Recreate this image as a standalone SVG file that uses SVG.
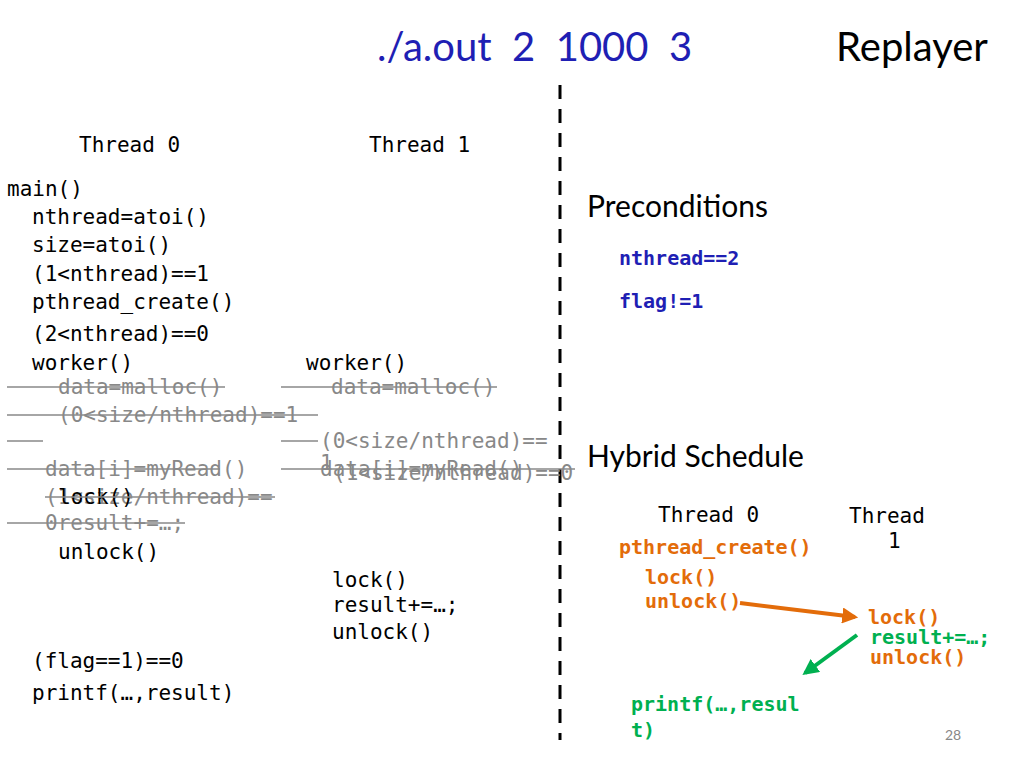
<svg xmlns="http://www.w3.org/2000/svg" width="1024" height="768" viewBox="0 0 1024 768">
<defs>
<style>
.m{font-family:"DejaVu Sans Mono",monospace;font-size:21px;fill:#000}
.g{font-family:"DejaVu Sans Mono",monospace;font-size:21px;fill:#888}
.b{font-family:"DejaVu Sans Mono",monospace;font-size:20px;font-weight:bold}
.s{font-family:Lato,"Open Sans",sans-serif}
.st{stroke:#888;stroke-width:1.5}
</style>
<marker id="ao" viewBox="0 0 10 10" refX="8" refY="5" markerWidth="4" markerHeight="4" orient="auto"><path d="M0,0L10,5L0,10z" fill="#e36c0a"/></marker>
<marker id="ag" viewBox="0 0 10 10" refX="8" refY="5" markerWidth="4" markerHeight="4" orient="auto"><path d="M0,0L10,5L0,10z" fill="#00b050"/></marker>
</defs>
<rect width="1024" height="768" fill="#fff"/>
<text x="377" y="61" class="s" font-size="40" fill="#1f1fb4" xml:space="preserve">./a.out  2  1000  3</text>
<text x="836" y="61" class="s" font-size="40" fill="#000">Replayer</text>
<line x1="560" y1="85" x2="560" y2="740" stroke="#000" stroke-width="3" stroke-dasharray="14,10"/>
<g id="left">
<text x="79" y="152" class="m">Thread 0</text>
<text x="369" y="152" class="m">Thread 1</text>
<text x="7" y="196" class="m">main()</text>
<text x="32" y="224" class="m">nthread=atoi()</text>
<text x="32" y="252" class="m">size=atoi()</text>
<text x="32" y="281" class="m">(1&lt;nthread)==1</text>
<text x="32" y="309" class="m">pthread_create()</text>
<text x="32" y="341" class="m">(2&lt;nthread)==0</text>
<text x="32" y="370" class="m">worker()</text>
<text x="306" y="370" class="m">worker()</text>
<text x="58" y="394" class="g">data=malloc()</text>
<text x="331" y="394" class="g">data=malloc()</text>
<text x="58" y="422" class="g">(0&lt;size/nthread)==1</text>
<text x="320" y="448" class="g">(0&lt;size/nthread)==</text>
<text x="320" y="470" class="g">1</text>
<text x="45" y="476" class="g">data[i]=myRead()</text>
<text x="320" y="476" class="g">data[i]=myRead()</text>
<text x="333" y="480" class="g">(1&lt;size/nthread)==0</text>
<text x="45" y="504" class="g">(1&lt;size/nthread)==</text>
<text x="45" y="530" class="g">0result+=…;</text>
<text x="58" y="504" class="m">lock()</text>
<text x="58" y="559" class="m">unlock()</text>
<text x="332" y="587" class="m">lock()</text>
<text x="332" y="612" class="m">result+=…;</text>
<text x="332" y="639" class="m">unlock()</text>
<text x="32" y="668" class="m">(flag==1)==0</text>
<text x="32" y="700" class="m">printf(…,result)</text>
<g class="st">
<line x1="7" y1="387" x2="225" y2="387"/><line x1="281" y1="387" x2="497" y2="387"/>
<line x1="7" y1="415" x2="318" y2="415"/>
<line x1="7" y1="441" x2="43" y2="441"/><line x1="281" y1="441" x2="318" y2="441"/>
<line x1="7" y1="469" x2="220" y2="469"/><line x1="281" y1="469" x2="575" y2="469"/>
<line x1="45" y1="497" x2="275" y2="497"/>
<line x1="7" y1="523" x2="185" y2="523"/>
</g>
</g>
<g id="right">
<text x="587" y="217" class="s" font-size="30" fill="#000">Preconditions</text>
<text x="619" y="265" class="b" fill="#1f1fb4">nthread==2</text>
<text x="619" y="308" class="b" fill="#1f1fb4">flag!=1</text>
<text x="587" y="467" class="s" font-size="30" fill="#000">Hybrid Schedule</text>
<text x="658" y="522" class="m">Thread 0</text>
<text x="849" y="523" class="m">Thread</text>
<text x="888" y="548" class="m">1</text>
<text x="619" y="554" class="b" fill="#e36c0a">pthread_create()</text>
<text x="645" y="584" class="b" fill="#e36c0a">lock()</text>
<text x="645" y="608" class="b" fill="#e36c0a">unlock()</text>
<text x="868" y="624" class="b" fill="#e36c0a">lock()</text>
<text x="870" y="644" class="b" fill="#00b050">result+=…;</text>
<text x="870" y="664" class="b" fill="#e36c0a">unlock()</text>
<text x="631" y="711" class="b" fill="#00b050">printf(…,resul</text>
<text x="631" y="737" class="b" fill="#00b050">t)</text>
<text x="945" y="740" class="s" font-size="14" fill="#888">28</text>
</g>
<g id="connectors">
<line x1="740" y1="603" x2="855" y2="617" stroke="#e36c0a" stroke-width="4" marker-end="url(#ao)"/>
<line x1="857" y1="635" x2="805" y2="673" stroke="#00b050" stroke-width="4" marker-end="url(#ag)"/>
</g>
</svg>
